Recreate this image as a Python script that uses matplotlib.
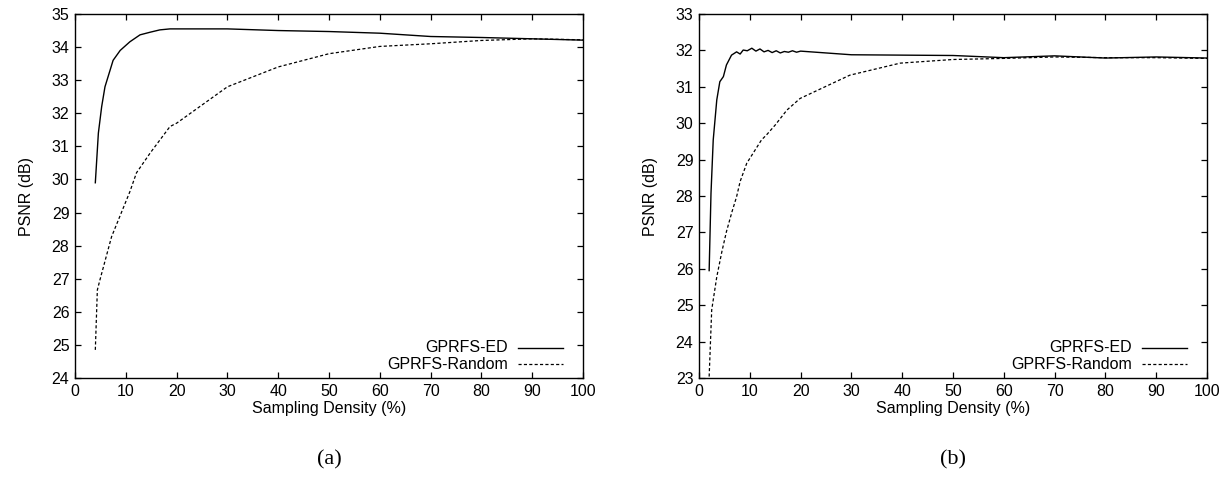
import matplotlib.pyplot as plt

# Panel (a)
a_ed_x = [4, 4.6, 5.25, 5.9, 7.5, 8.9, 10.8, 12.8, 14.8, 16.7, 18.7, 20, 30, 40, 50, 60, 70, 80, 90, 100]
a_ed_y = [29.9, 31.4, 32.2, 32.8, 33.6, 33.9, 34.16, 34.37, 34.45, 34.52, 34.55, 34.55, 34.55, 34.5,
          34.47, 34.42, 34.32, 34.29, 34.25, 34.21]
a_rnd_x = [4, 4.4, 4.9, 7.2, 10.8, 12.1, 14.8, 18.7, 20, 30, 40, 50, 60, 70, 80, 90, 100]
a_rnd_y = [24.85, 26.66, 26.96, 28.27, 29.63, 30.2, 30.8, 31.6, 31.7, 32.8, 33.4, 33.8, 34.02, 34.1,
           34.2, 34.25, 34.22]

# Panel (b)
b_ed_x = [2, 2.36, 2.8, 3.5, 4.1, 4.8, 5.4, 6.4, 7.4, 8.1, 8.7, 9.5, 10.4, 11.2, 12, 12.8, 13.6, 14.4,
          15.2, 16, 16.8, 17.6, 18.4, 19.2, 20, 30, 40, 50, 60, 70, 80, 90, 100]
b_ed_y = [25.95, 28.07, 29.54, 30.64, 31.14, 31.28, 31.6, 31.87, 31.96, 31.9, 32.01, 31.99, 32.06, 31.98,
          32.04, 31.96, 32.0, 31.94, 31.99, 31.93, 31.97, 31.95, 31.99, 31.95, 31.98, 31.88, 31.87,
          31.86, 31.8, 31.85, 31.79, 31.82, 31.79]
b_rnd_x = [2, 2.5, 3.5, 4.5, 5.4, 6.5, 7.4, 8.1, 9.4, 12.3, 13.3, 15, 17.3, 19.9, 29.7, 39.6, 50, 60,
           70, 80, 90, 100]
b_rnd_y = [23.04, 24.87, 25.78, 26.47, 27.02, 27.57, 27.98, 28.4, 28.9, 29.54, 29.68, 29.95, 30.36,
           30.68, 31.32, 31.65, 31.75, 31.78, 31.82, 31.8, 31.8, 31.78]

panels = [
    (a_ed_x, a_ed_y, a_rnd_x, a_rnd_y, (24, 35), "(a)"),
    (b_ed_x, b_ed_y, b_rnd_x, b_rnd_y, (23, 33), "(b)"),
]

plt.rcParams['font.family'] = ['Liberation Sans', 'DejaVu Sans']
FS = 11.5

fig = plt.figure(figsize=(12.3, 4.88), dpi=100)
lefts = [75 / 1230, 699 / 1230]

for left, (ex, ey, rx, ry, ylim, cap) in zip(lefts, panels):
    ax = fig.add_axes([left, 1 - 378 / 488, 508 / 1230, 364 / 488])
    ax.plot(ex, ey, color="black", lw=1.0)
    ax.plot(rx, ry, color="black", lw=0.9, dashes=(2.5, 1.8))
    ax.set_xlim(0, 100)
    ax.set_ylim(*ylim)
    ax.set_xticks(range(0, 101, 10))
    ax.set_yticks(range(ylim[0], ylim[1] + 1))
    ax.tick_params(direction="in", top=True, right=True, length=4, width=0.9, labelsize=FS, pad=4)
    for s in ax.spines.values():
        s.set_linewidth(1.0)
    ax.set_xlabel("Sampling Density (%)", fontsize=FS, labelpad=2)
    ax.set_ylabel("PSNR (dB)", fontsize=FS, labelpad=13)

    # legend, gnuplot style: right-aligned text, sample to the right
    ax.text(0.852, 0.083, "GPRFS-ED", transform=ax.transAxes, ha="right", va="center", fontsize=FS)
    ax.text(0.852, 0.038, "GPRFS-Random", transform=ax.transAxes, ha="right", va="center", fontsize=FS)
    ax.plot([0.872, 0.961], [0.083, 0.083], transform=ax.transAxes, color="black", lw=1.0)
    ax.plot([0.872, 0.961], [0.038, 0.038], transform=ax.transAxes, color="black", lw=0.9, dashes=(2.5, 1.8))

    ax.text(0.5, -0.225, cap, transform=ax.transAxes, ha="center", va="center", fontsize=16,
            family="Liberation Serif")

fig.savefig("out.png", dpi=100)
